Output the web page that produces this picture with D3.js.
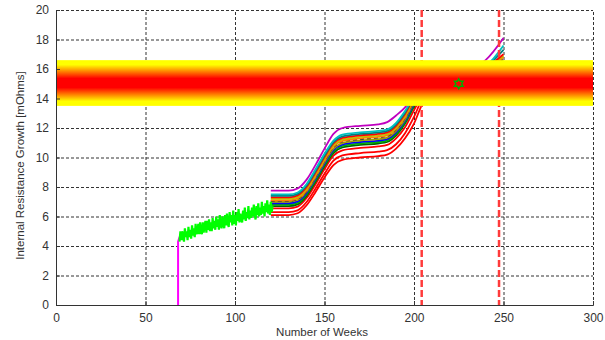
<!DOCTYPE html>
<html>
<head>
<meta charset="utf-8">
<script src="https://cdn.jsdelivr.net/npm/d3@7"></script>
<style>
  body { margin: 0; background: #fff; }
  svg { display: block; font-family: "Liberation Sans", Arial, sans-serif; }
</style>
</head>
<body>
<svg id="plot" width="605" height="340"></svg>
<script>
// tick labels
const xTicks = [0, 50, 100, 150, 200, 250, 300];
const yTicks = [0, 2, 4, 6, 8, 10, 12, 14, 16, 18, 20];

// measured data (green, noisy), one value per half week starting at week 69
const measStart = 69;
const measValues = [
  4.3, 5.0, 4.4, 5.0, 4.6, 4.3, 5.2, 4.6, 5.0, 4.4,
  5.3, 4.6, 5.1, 4.5, 5.4, 4.7, 5.2, 4.6, 5.5, 4.8,
  5.0, 5.5, 4.8, 5.6, 5.0, 4.8, 5.6, 4.9, 5.4, 5.7,
  4.9, 5.7, 5.1, 5.8, 5.0, 5.6, 5.0, 5.9, 5.2, 5.7,
  5.1, 6.0, 5.3, 5.8, 5.1, 6.1, 5.4, 5.2, 6.0, 5.5,
  5.2, 6.1, 5.4, 6.2, 5.5, 5.3, 6.3, 5.6, 6.1, 5.4,
  6.4, 5.5, 6.1, 5.4, 6.3, 5.7, 6.5, 5.6, 6.2, 5.8,
  5.6, 6.4, 5.8, 6.6, 5.7, 6.3, 5.9, 6.7, 5.8, 6.4,
  5.9, 6.6, 6.0, 6.8, 6.1, 5.8, 6.7, 6.1, 6.9, 6.0,
  6.6, 6.1, 7.0, 6.2, 6.7, 6.0, 6.9, 6.3, 7.1, 6.2,
  6.8, 6.1, 7.0, 6.3, 6.7
];

// magenta trend under the measured data
const trendWeeks = [68.2, 68.2, 69, 80, 90, 100, 110, 120];
const trendValues = [0, 4.3, 4.6, 5.1, 5.5, 5.85, 6.2, 6.5];

// projected curves
const projWeeks = [120, 130, 135, 140, 145, 150, 155, 160, 170, 180, 185, 190, 195, 200, 205, 210, 220, 230, 240, 250];
const projColors = ["#ff0000", "#ff0000", "#ff0000", "#006400", "#00b000", "#0000ff", "#a0a000",
                    "#404040", "#ff8000", "#c0c000", "#ff0000", "#008080", "#00c0c0", "#c000c0"];
const projDashed = [false, false, false, false, false, false, false, true, false, false, false, false, false, false];
const projValues = [
  [6.1, 6.1, 6.22, 6.76, 7.66, 8.64, 9.49, 9.84, 10.0, 10.1, 10.2, 10.6, 11.3, 12.3, 13.7, 14.2, 14.65, 15.05, 15.45, 15.7],
  [6.3, 6.3, 6.42, 6.98, 7.9, 8.9, 9.78, 10.14, 10.3, 10.4, 10.5, 10.9, 11.65, 12.75, 14.0, 14.3, 14.75, 15.15, 15.55, 15.9],
  [6.55, 6.55, 6.67, 7.25, 8.19, 9.22, 10.12, 10.49, 10.65, 10.75, 10.85, 11.3, 12.05, 13.2, 14.2, 14.45, 14.85, 15.25, 15.65, 16.1],
  [6.7, 6.7, 6.82, 7.4, 8.36, 9.4, 10.3, 10.68, 10.85, 10.95, 11.05, 11.5, 12.3, 13.45, 14.3, 14.55, 14.95, 15.35, 15.75, 16.3],
  [6.8, 6.8, 6.92, 7.5, 8.46, 9.5, 10.4, 10.78, 10.95, 11.05, 11.15, 11.6, 12.4, 13.55, 14.35, 14.6, 15.0, 15.4, 15.8, 16.4],
  [6.9, 6.9, 7.02, 7.6, 8.56, 9.6, 10.5, 10.88, 11.05, 11.15, 11.25, 11.7, 12.5, 13.65, 14.4, 14.65, 15.05, 15.45, 15.85, 16.5],
  [7.0, 7.0, 7.12, 7.7, 8.66, 9.7, 10.6, 10.98, 11.15, 11.25, 11.35, 11.8, 12.6, 13.75, 14.45, 14.7, 15.1, 15.5, 15.9, 16.6],
  [7.05, 7.05, 7.18, 7.75, 8.73, 9.78, 10.7, 11.08, 11.25, 11.35, 11.45, 11.9, 12.7, 13.85, 14.5, 14.75, 15.15, 15.55, 15.95, 16.7],
  [7.1, 7.1, 7.23, 7.8, 8.78, 9.83, 10.75, 11.13, 11.3, 11.4, 11.5, 11.95, 12.75, 13.9, 14.55, 14.8, 15.2, 15.6, 16.0, 16.8],
  [7.2, 7.2, 7.33, 7.9, 8.88, 9.93, 10.85, 11.23, 11.4, 11.5, 11.6, 12.05, 12.85, 14.0, 14.6, 14.85, 15.25, 15.65, 16.05, 16.9],
  [7.3, 7.3, 7.43, 8.0, 8.98, 10.03, 10.95, 11.33, 11.5, 11.6, 11.7, 12.15, 12.95, 14.05, 14.65, 14.9, 15.3, 15.7, 16.1, 17.0],
  [7.4, 7.4, 7.53, 8.1, 9.08, 10.13, 11.05, 11.43, 11.6, 11.7, 11.8, 12.25, 13.05, 14.1, 14.7, 14.95, 15.35, 15.75, 16.15, 17.3],
  [7.5, 7.5, 7.63, 8.2, 9.2, 10.25, 11.15, 11.55, 11.7, 11.8, 11.9, 12.35, 13.15, 14.15, 14.75, 15.0, 15.4, 15.8, 16.2, 17.6],
  [7.75, 7.75, 7.9, 8.5, 9.5, 10.6, 11.6, 12.0, 12.15, 12.25, 12.4, 12.85, 13.4, 14.2, 14.8, 15.1, 15.5, 16.0, 16.6, 18.1]
];

// end-of-life markers
const eolWeeks = [204.3, 247.5];
const bandRange = [13.5, 16.6];
const starPoint = { week: 225, value: 15 };

const svg = d3.select("#plot");
const x = d3.scaleLinear().domain([0, 300]).range([56, 593]);
const y = d3.scaleLinear().domain([0, 20]).range([305, 10]);

// grid
const grid = svg.append("g").attr("stroke", "#333").attr("stroke-dasharray", "3,2").attr("stroke-width", 1);
grid.selectAll(".gx").data(xTicks.slice(1)).join("line")
    .attr("x1", d => x(d) + 0.5).attr("x2", d => x(d) + 0.5)
    .attr("y1", y(0)).attr("y2", y(20));
grid.selectAll(".gy").data(yTicks.slice(1)).join("line")
    .attr("y1", d => y(d) + 0.5).attr("y2", d => y(d) + 0.5)
    .attr("x1", x(0)).attr("x2", x(300));

// projected curves
const projLine = d3.line()
    .x((d, i) => x(projWeeks[i]))
    .y(d => y(d))
    .curve(d3.curveMonotoneX);
svg.append("g").attr("fill", "none")
  .selectAll("path").data(projValues).join("path")
    .attr("d", d => projLine(d))
    .attr("stroke", (d, i) => projColors[i])
    .attr("stroke-width", 1.8)
    .attr("stroke-dasharray", (d, i) => projDashed[i] ? "4,3" : null);

// magenta trend
const trendLine = d3.line().x((d, i) => x(trendWeeks[i])).y(d => y(d));
svg.append("path").attr("d", trendLine(trendValues))
   .attr("fill", "none").attr("stroke", "#ff00ff").attr("stroke-width", 2);

// green measured data
const measLine = d3.line().x((d, i) => x(measStart + i * 0.5)).y(d => y(d));
svg.append("path").attr("d", measLine(measValues))
   .attr("fill", "none").attr("stroke", "#00ff00").attr("stroke-width", 2.2);

// red dashed verticals
svg.append("g").selectAll("line").data(eolWeeks).join("line")
   .attr("x1", d => x(d)).attr("x2", d => x(d))
   .attr("y1", y(20)).attr("y2", y(0))
   .attr("stroke", "#ff3b3b").attr("stroke-width", 2.5).attr("stroke-dasharray", "7,3");

// threshold band
const grad = svg.append("defs").append("linearGradient")
    .attr("id", "band").attr("x1", 0).attr("y1", 0).attr("x2", 0).attr("y2", 1);
[[0, "#ffff00"], [0.1, "#ffff00"], [0.4, "#ff0000"], [0.6, "#ff0000"], [0.9, "#ffff00"], [1, "#ffff00"]]
  .forEach(s => grad.append("stop").attr("offset", s[0]).attr("stop-color", s[1]));
svg.append("rect")
   .attr("x", x(0)).attr("width", x(300) - x(0))
   .attr("y", y(bandRange[1])).attr("height", y(bandRange[0]) - y(bandRange[1]))
   .attr("fill", "url(#band)");

// hexagram marker
const r = 5;
const starPts = d3.range(12).map(k => {
  const a = -Math.PI / 2 + k * Math.PI / 6;
  const rr = k % 2 === 0 ? r : r / Math.sqrt(3);
  return [x(starPoint.week) + rr * Math.cos(a), y(starPoint.value) + rr * Math.sin(a)];
});
svg.append("path").attr("d", d3.line()(starPts) + "Z")
   .attr("fill", "none").attr("stroke", "#00b000").attr("stroke-width", 1.5);

// axes
const xAxis = d3.axisBottom(x).tickValues(xTicks).tickSize(-4).tickPadding(8);
const yAxis = d3.axisLeft(y).tickValues(yTicks).tickSize(-4).tickPadding(7);
const gx = svg.append("g").attr("transform", `translate(0,${y(0)})`).call(xAxis);
const gy = svg.append("g").attr("transform", `translate(${x(0)},0)`).call(yAxis);
[gx, gy].forEach(g => {
  g.select(".domain").attr("stroke", "#333");
  g.selectAll(".tick line").attr("stroke", "#333");
  g.selectAll("text").attr("fill", "#333").style("font-size", "12px")
   .style("font-family", "'Liberation Sans', Arial, sans-serif");
});

svg.append("text")
   .attr("transform", `translate(24,${(y(0) + y(20)) / 2 + 8}) rotate(-90)`)
   .attr("text-anchor", "middle").attr("fill", "#333").style("font-size", "11.5px")
   .text("Internal Resistance Growth [mOhms]");
svg.append("text")
   .attr("x", 322).attr("y", 336)
   .attr("text-anchor", "middle").attr("fill", "#333").style("font-size", "11.5px")
   .text("Number of Weeks");
</script>
</body>
</html>
